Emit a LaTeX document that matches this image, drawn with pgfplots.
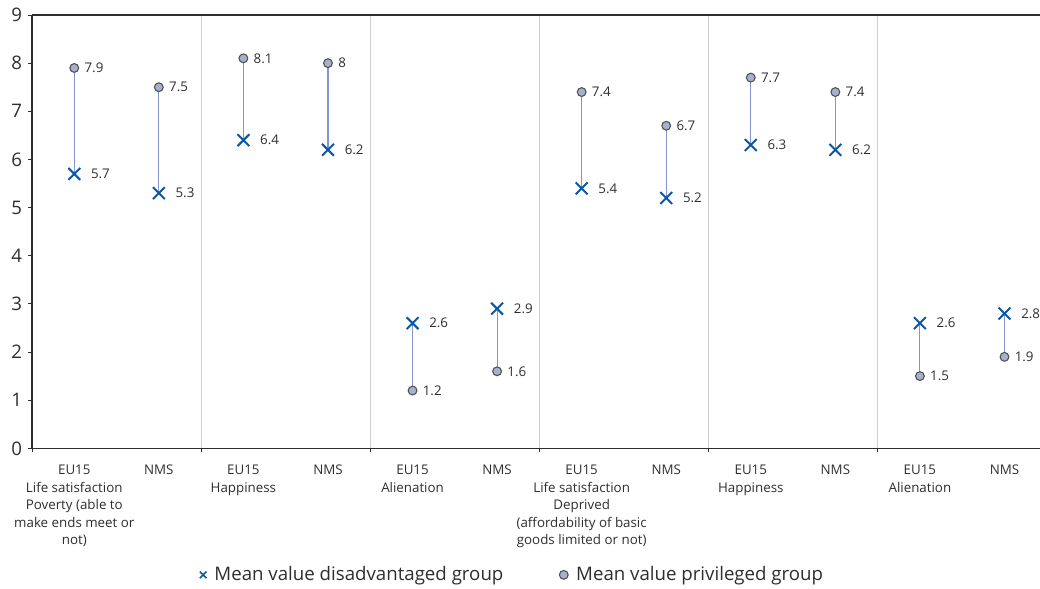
\documentclass[border=0pt]{standalone}
\usepackage{pgfplots}
\usepackage{pgfplotstable}
\pgfplotsset{compat=1.18}
\usepackage{fontspec}
\setmainfont{Open Sans}
\definecolor{crossblue}{HTML}{0B57A4}
\definecolor{dotfill}{HTML}{A9AFCF}
\definecolor{dotline}{HTML}{505050}
\definecolor{linkcol}{HTML}{8494CE}
\definecolor{txt}{HTML}{2E2E2E}
\definecolor{sepgray}{HTML}{CFCFCF}

\pgfplotstableread{
x dis priv
0 5.7 7.9
1 5.3 7.5
2 6.4 8.1
3 6.2 8.0
4 2.6 1.2
5 2.9 1.6
6 5.4 7.4
7 5.2 6.7
8 6.3 7.7
9 6.2 7.4
10 2.6 1.5
11 2.8 1.9
}\data

\begin{document}
\begin{tikzpicture}[x=1pt,y=1pt]
\path[use as bounding box] (-24,-105) rectangle (756,336.25);
\begin{axis}[
  at={(0,0)}, anchor=south west,
  scale only axis, width=756pt, height=325pt,
  xmin=-0.5, xmax=11.42, ymin=0, ymax=9,
  axis x line*=bottom, axis y line*=left,
  axis line style={txt, line width=0.8pt},
  tick align=outside, major tick length=3pt,
  tick style={txt, line width=0.6pt},
  ytick={0,...,9},
  yticklabel style={font=\fontsize{14}{14}\selectfont, text=txt, xshift=-1pt},
  /pgf/number format/assume math mode=true,
  xtick={-0.5,1.5,3.5,5.5,7.5,9.5},
  xticklabels={},
  xmajorgrids, major grid style={sepgray, line width=0.7pt},
  extra x ticks={0,1,2,3,4,5,6,7,8,9,10,11},
  extra x tick labels={{EU15\\Life satisfaction\\Poverty (able to\\make ends meet or\\not)}, NMS, {EU15\\Happiness}, NMS, {EU15\\Alienation}, NMS, {EU15\\Life satisfaction\\Deprived\\(affordability of basic\\goods limited or not)}, NMS, {EU15\\Happiness}, NMS, {EU15\\Alienation}, NMS},
  extra x tick style={grid=none, major tick length=0pt,
    xticklabel style={align=center, font=\fontsize{10}{13.2}\selectfont, text=txt, anchor=north, yshift=-9pt}},
  legend style={at={(0.477,-0.292)}, anchor=center, draw=none, fill=none,
    legend columns=2, font=\fontsize{14}{16}\selectfont, text=txt,
    /tikz/every odd column/.append style={column sep=4pt},
    /tikz/every even column/.append style={column sep=40pt}},
  legend cell align=left,
  clip=false,
]
\addplot[mark=none, draw=none, forget plot,
  error bars/.cd, y dir=both, y explicit, error mark=none,
  error bar style={linkcol, line width=0.8pt}]
  table[x=x, y=dis,
    y error plus expr={max(\thisrow{priv}-\thisrow{dis},0)},
    y error minus expr={max(\thisrow{dis}-\thisrow{priv},0)}] {\data};
\addplot[only marks, mark=x, mark size=6.3pt, crossblue, line width=1.5pt,
  nodes near coords,
  every node near coord/.append style={anchor=west, xshift=8.5pt, text=txt, font=\fontsize{10}{12}\selectfont},
  legend image post style={mark size=3.5pt, line width=1.2pt}]
  table[x=x, y=dis] {\data};
\addlegendentry{Mean value disadvantaged group}
\addplot[only marks, mark=*, mark size=3.3pt, mark options={fill=dotfill, draw=dotline, line width=0.8pt},
  nodes near coords,
  every node near coord/.append style={anchor=west, xshift=4pt, text=txt, font=\fontsize{10}{12}\selectfont},
  legend image post style={mark size=3.3pt}]
  table[x=x, y=priv] {\data};
\addlegendentry{Mean value privileged group}
\draw[txt, line width=0.8pt] (rel axis cs:0,1) -- (rel axis cs:1,1);
\end{axis}
\end{tikzpicture}
\end{document}
